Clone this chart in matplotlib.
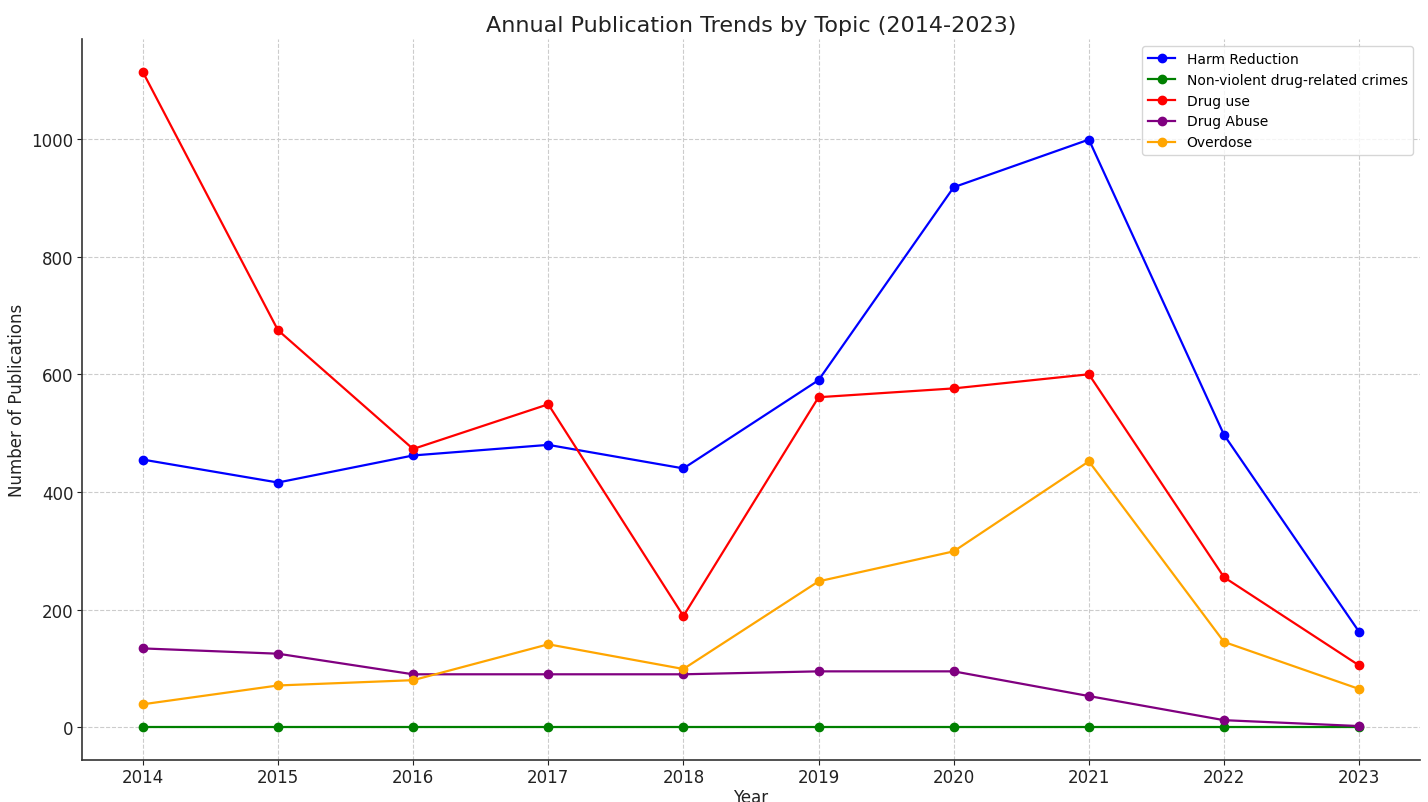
import matplotlib.pyplot as plt

plt.rcParams["font.family"] = ["DejaVu Sans"]

years = [2014, 2015, 2016, 2017, 2018, 2019, 2020, 2021, 2022, 2023]

harm_reduction = [455, 416, 462, 480, 440, 590, 918, 999, 497, 162]
non_violent = [0, 0, 0, 0, 0, 0, 0, 0, 0, 0]
drug_use = [1114, 675, 473, 549, 189, 561, 576, 600, 255, 105]
drug_abuse = [134, 125, 90, 90, 90, 95, 95, 53, 12, 2]
overdose = [39, 71, 80, 141, 99, 248, 299, 452, 145, 65]

series = [
    ("Harm Reduction", harm_reduction, "blue"),
    ("Non-violent drug-related crimes", non_violent, "green"),
    ("Drug use", drug_use, "red"),
    ("Drug Abuse", drug_abuse, "purple"),
    ("Overdose", overdose, "orange"),
]

fig = plt.figure(figsize=(14.28, 8.03), dpi=100)
ax = fig.add_axes([0.0574, 0.0523, 0.937, 0.8977])

for label, vals, color in series:
    ax.plot(years, vals, marker="o", color=color, label=label, linewidth=1.6, markersize=6)

ax.set_title("Annual Publication Trends by Topic (2014-2023)", fontsize=16, color="#222222")
ax.set_xlabel("Year", fontsize=12, color="#222222", labelpad=1)
ax.set_ylabel("Number of Publications", fontsize=12, color="#222222")
ax.set_xticks(years)
ax.tick_params(labelsize=12, colors="#222222", pad=2.5, length=3.5)

ax.grid(True, linestyle="--", color="#cccccc", linewidth=0.8)
ax.spines["top"].set_visible(False)
ax.spines["right"].set_visible(False)
for s in ("left", "bottom"):
    ax.spines[s].set_color("#333333")
    ax.spines[s].set_linewidth(1.2)

ax.legend(loc="upper right", fontsize=10)

fig.savefig("out.png", dpi=100)
